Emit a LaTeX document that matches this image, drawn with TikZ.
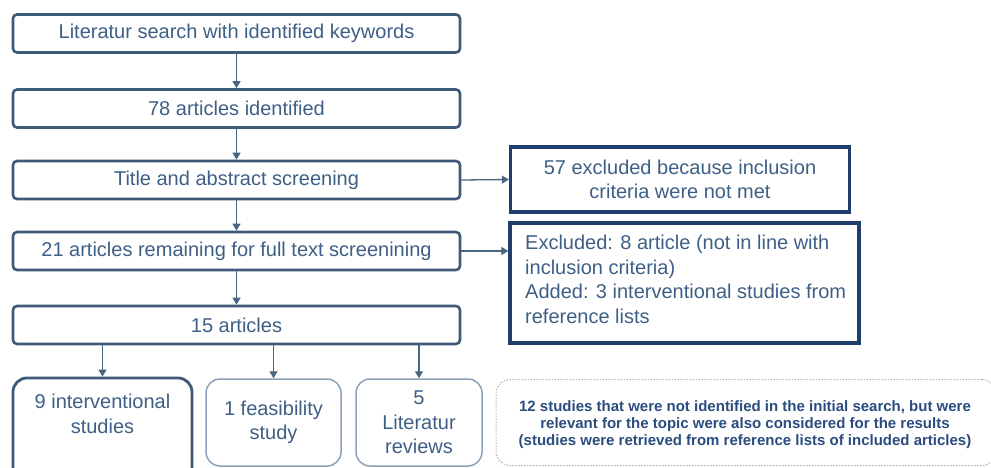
\documentclass[tikz,border=0pt]{standalone}
\usepackage{fontspec}
\setmainfont{Liberation Sans}
\usetikzlibrary{arrows.meta}
\definecolor{bordc}{HTML}{3D5A78}
\definecolor{txtc}{HTML}{3E5F85}
\definecolor{navy}{HTML}{1F3E6C}
\definecolor{lightb}{HTML}{8DA2B8}
\definecolor{dotc}{HTML}{A9B4C0}
\definecolor{arrc}{HTML}{4A6580}
\definecolor{dtxt}{HTML}{2B4C7E}
\begin{document}
\begin{tikzpicture}[x=1pt,y=-1pt,
  mainbox/.style={draw=bordc,line width=2.6pt,rounded corners=4pt,minimum width=447pt,minimum height=38pt,text=txtc,font=\fontsize{20}{23}\selectfont,inner sep=0pt},
  sidebox/.style={draw=navy,line width=3.4pt,text=txtc,font=\fontsize{20}{24.5}\selectfont,inner sep=0pt},
  leafbox/.style={draw=lightb,line width=1.5pt,rounded corners=14pt,text=txtc,font=\fontsize{20}{24.5}\selectfont,inner sep=0pt,align=center},
  arr/.style={draw=arrc,line width=1.3pt,-{Triangle[length=7pt,width=8pt]}}]
\useasboundingbox (0,0) rectangle (991,468);
\node[mainbox] (b1) at (236.5,33.5) {Literatur search with identified keywords};
\node[mainbox] (b2) at (236.5,108.5) {78 articles identified};
\node[mainbox] (b3) at (236.5,180) {Title and abstract screening};
\node[mainbox] (b4) at (236.5,251) {21 articles remaining for full text screenining};
\node[mainbox] (b5) at (236.5,325) {15 articles};
\node[sidebox,minimum width=339pt,minimum height=65pt,align=center] (s1) at (680,179.5) {57 excluded because inclusion\\criteria were not met};
\node[sidebox,minimum width=349pt,minimum height=120pt] (s2) at (684.5,283) {};
\node[anchor=north west,text=txtc,font=\fontsize{20}{24.5}\selectfont,align=left,inner sep=0pt] (s2t) at (525,235) {Excluded: 8 article (not in line with\\inclusion criteria)\\Added: 3 interventional studies from\\reference lists};
\draw[arr] (b1) -- (b2);
\draw[arr] (b2) -- (b3);
\draw[arr] (b3) -- (b4);
\draw[arr] (b4) -- (b5);
\draw[arr] (b3.east) -- (s1.west);
\draw[arr] (b4.east) -- (s2.west |- b4.east);
% bottom boxes
\node[leafbox,draw=bordc,line width=2.8pt,minimum width=179pt,minimum height=110pt] (l1) at (102.5,433) {};
\node[text=txtc,font=\fontsize{20}{24.5}\selectfont,align=center,inner sep=0pt] (l1t) at (102.5,414) {9 interventional\\studies};
\node[leafbox,minimum width=135pt,minimum height=87pt] (l2) at (273.5,422.5) {1 feasibility\\study};
\node[leafbox,minimum width=126pt,minimum height=87pt] (l3) at (419,422.5) {5\\Literatur\\reviews};
\node[draw=dotc,line width=1pt,dash pattern=on 1.5pt off 1.5pt,rounded corners=14pt,minimum width=500pt,minimum height=86pt,inner sep=0pt] (d1) at (746,422.5) {};
\node[text=dtxt,font=\bfseries\fontsize{15}{17}\selectfont,align=center,inner sep=0pt] (d1t) at (745,425) {12 studies that were not identified in the initial search, but were\\relevant for the topic were also considered for the results\\(studies were retrieved from reference lists of included articles)};
\draw[arr] (b5.south -| l1.north) -- (l1.north);
\draw[arr] (b5.south -| l2.north) -- (l2.north);
\draw[arr] (b5.south -| l3.north) -- (l3.north);
\end{tikzpicture}
\end{document}
